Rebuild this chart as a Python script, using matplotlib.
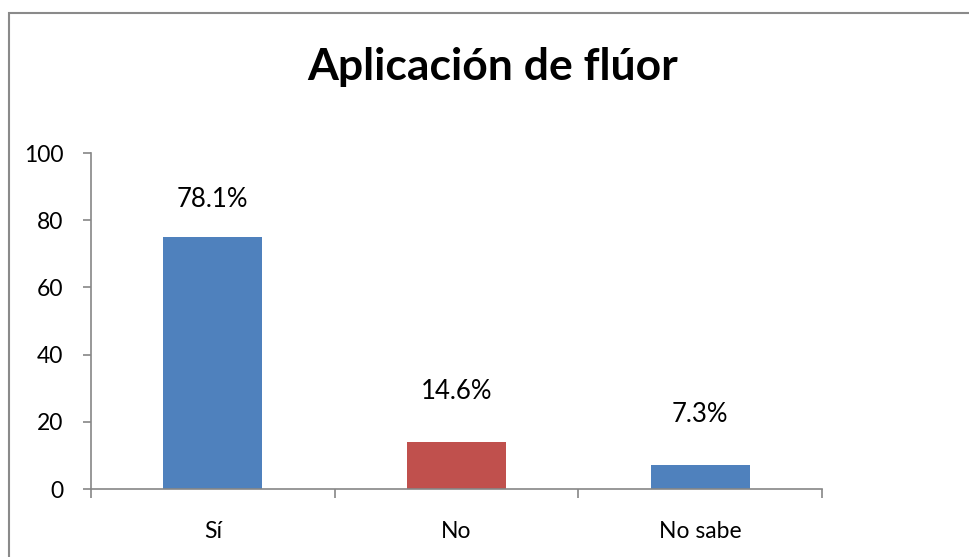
import numpy as np
import matplotlib.pyplot as plt
from matplotlib.patches import Rectangle
from matplotlib.ticker import FixedLocator, NullFormatter

# data
categories = ['Sí', 'No', 'No sabe']
values = [75, 14, 7]
pct_labels = ['78.1%', '14.6%', '7.3%']
bar_colors = ['#4F81BD', '#C0504D', '#4F81BD']
label_offsets = [27, 36, 37]  # points above bar top

plt.rcParams['font.family'] = ['Lato', 'DejaVu Sans']

fig = plt.figure(figsize=(9.69, 5.57), dpi=100)
ax = fig.add_axes([91/969, 68/557, 731/969, 336/557])

x = np.arange(len(categories))
ax.bar(x, values, width=0.405, color=bar_colors)

for xi, v, lab, off in zip(x, values, pct_labels, label_offsets):
    ax.annotate(lab, (xi, v), xytext=(0, off), textcoords='offset points',
                ha='center', va='center', fontsize=18.5)

ax.set_xlim(-0.5, len(categories) - 0.5)
ax.set_ylim(0, 100)
ax.set_yticks([0, 20, 40, 60, 80, 100])

# category labels in the middle, tick marks on the boundaries
ax.set_xticks(x)
ax.set_xticklabels(categories)
ax.xaxis.set_minor_locator(FixedLocator(np.arange(-0.5, len(categories), 1.0)))
ax.xaxis.set_minor_formatter(NullFormatter())
ax.tick_params(axis='x', which='major', length=0, pad=23, labelsize=16.5)
ax.tick_params(axis='x', which='minor', length=6.5, width=1.2, color='#868686', direction='out')
ax.tick_params(axis='y', length=6, width=1.2, color='#868686', pad=14, labelsize=16.5)

for s in ['top', 'right']:
    ax.spines[s].set_visible(False)
for s in ['left', 'bottom']:
    ax.spines[s].set_color('#868686')
    ax.spines[s].set_linewidth(1.2)

fig.text(493/969, 1 - 67/557, 'Aplicación de flúor', ha='center', va='center',
         fontsize=32, fontweight='bold')

# chart area border (cut off at right and bottom)
fig.patches.append(Rectangle((9/969, -0.1), 1.2, 1 - 13/557 + 0.1,
                             transform=fig.transFigure, fill=False,
                             edgecolor='#8a8a8a', linewidth=1.5))

fig.savefig('out.png', dpi=100)
